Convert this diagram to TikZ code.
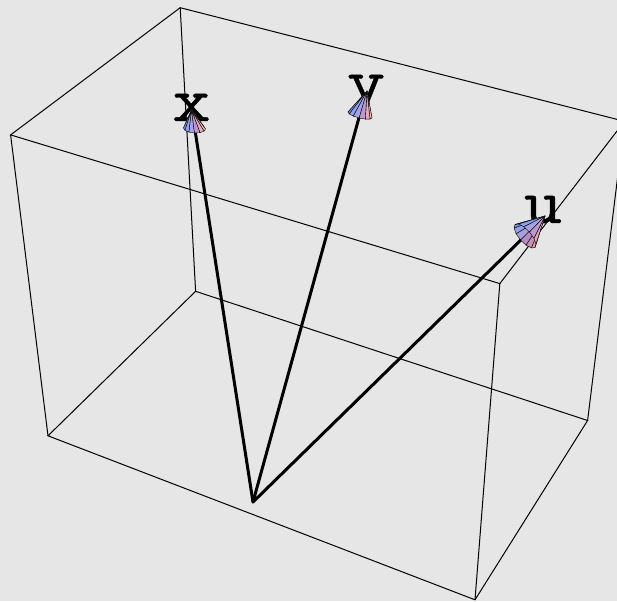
\documentclass[tikz,border=0pt]{standalone}
\usepackage{fontspec}
\newfontfamily\labfont{Latin Modern Mono}[FakeStretch=1.18,FakeBold=0.7]
\usetikzlibrary{calc}
\definecolor{bg}{RGB}{230,230,230}
\definecolor{c0}{RGB}{118,146,228}
\definecolor{c1}{RGB}{150,160,232}
\definecolor{c2}{RGB}{172,160,220}
\definecolor{c3}{RGB}{180,140,196}
\definecolor{c4}{RGB}{200,146,180}
\definecolor{c5}{RGB}{226,166,170}
\definecolor{c6}{RGB}{240,192,182}
\definecolor{c7}{RGB}{228,170,184}
\definecolor{c8}{RGB}{190,150,206}
\definecolor{c9}{RGB}{166,162,230}
\definecolor{c10}{RGB}{140,160,236}
\definecolor{c11}{RGB}{124,150,232}
\tikzset{
  boxedge/.style={draw=black,line width=1pt},
  vec/.style={draw=black,line width=3pt},
  lab/.style={font=\fontsize{63}{63}\selectfont\labfont,inner sep=0pt,anchor=base},
  facet/.style={draw=black,line width=0.4pt,line join=round}
}
\newcommand{\conefacets}[8]{%
  \foreach \t/\c in {240/c2,270/c3,210/c1,300/c4,180/c0,330/c5,150/c11,0/c6,120/c10,30/c7,90/c9,60/c8}{%
    \pgfmathsetmacro\xa{#3+(#5)*cos(\t)+(#7)*sin(\t)}%
    \pgfmathsetmacro\ya{#4+(#6)*cos(\t)+(#8)*sin(\t)}%
    \pgfmathsetmacro\xb{#3+(#5)*cos(\t+30)+(#7)*sin(\t+30)}%
    \pgfmathsetmacro\yb{#4+(#6)*cos(\t+30)+(#8)*sin(\t+30)}%
    \filldraw[facet,fill=\c] (#1,#2) -- (\xa,\ya) -- (\xb,\yb) -- cycle;
  }}
\begin{document}
\begin{tikzpicture}[x=1pt,y=-1pt]
\fill[bg] (0,0) rectangle (617,601);
\useasboundingbox (0,0) rectangle (617,601);
\clip (0,0) rectangle (617,601);
% box corners
\coordinate (TBL) at (180.2,7.7);
\coordinate (TFL) at (10.6,134.9);
\coordinate (TFR) at (499.8,283.6);
\coordinate (TBR) at (624.5,121.3);
\coordinate (BBL) at (195.6,291.3);
\coordinate (BFL) at (48,435.8);
\coordinate (BFR) at (475,599.8);
\coordinate (BBR) at (587.6,420.5);
% labels
\node[lab] (lx) at (191.5,121) {x};
\node[lab] (ly) at (366,102) {y};
\node[lab] (lu) at (543,223) {u};
% box
\draw[boxedge] (TBL) -- (TFL) -- (TFR) -- (TBR) -- cycle;
\draw[boxedge] (BBL) -- (BFL) -- (BFR) -- (BBR) -- cycle;
\draw[boxedge] (TBL) -- (BBL);
\draw[boxedge] (TFL) -- (BFL);
\draw[boxedge] (TFR) -- (BFR);
\draw[boxedge] (TBR) -- (BBR);
% vectors
\coordinate (O) at (253,502);
\coordinate (X) at (194.5,127);
\coordinate (Y) at (360,114);
\coordinate (U) at (527,234);
\draw[vec,line cap=round] (O) -- (X);
\draw[vec,line cap=round] (O) -- (Y);
\draw[vec,line cap=round] (O) -- (U);
% cones
\conefacets{191.5}{110}{194.5}{128.5}{11}{0.5}{0}{4.5}
\conefacets{367}{91}{360}{115}{12}{3}{-0.8}{3}
\conefacets{545}{216}{525}{236}{10}{11.5}{4.5}{-4}
\end{tikzpicture}
\end{document}
